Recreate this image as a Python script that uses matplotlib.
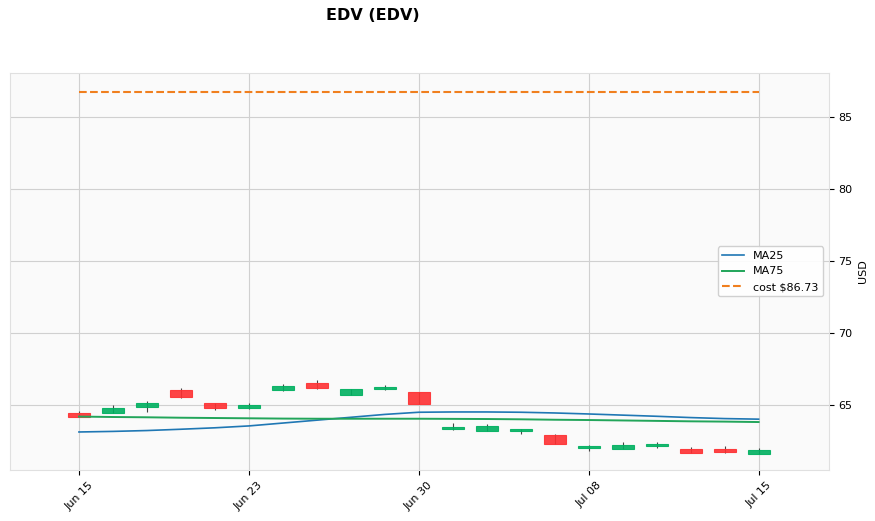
import numpy as np
import matplotlib
matplotlib.use("Agg")
import matplotlib.pyplot as plt

dates = ["Jun 15", "Jun 16", "Jun 17", "Jun 18", "Jun 20", "Jun 23", "Jun 24",
         "Jun 25", "Jun 26", "Jun 27", "Jun 30", "Jul 01", "Jul 02", "Jul 03",
         "Jul 07", "Jul 08", "Jul 09", "Jul 10", "Jul 11", "Jul 14", "Jul 15"]
opens = [64.47, 64.47, 64.86, 66.06, 65.14, 64.79, 66.04, 66.55, 65.72, 66.11, 65.92,
         63.33, 63.22, 63.22, 62.92, 62.01, 61.94, 62.15, 61.97, 61.92, 61.62]
highs = [64.61, 64.98, 65.30, 66.18, 65.14, 65.14, 66.46, 66.74, 66.13, 66.37, 65.92,
         63.73, 63.66, 63.36, 62.99, 62.20, 62.41, 62.45, 62.08, 62.15, 62.03]
lows = [64.15, 64.45, 64.49, 65.47, 64.67, 64.74, 65.97, 66.09, 65.72, 66.04, 65.09,
        63.29, 63.22, 62.97, 62.31, 61.81, 61.94, 61.99, 61.69, 61.65, 61.62]
closes = [64.15, 64.81, 65.16, 65.58, 64.79, 65.02, 66.32, 66.18, 66.11, 66.25, 65.09,
          63.49, 63.54, 63.36, 62.31, 62.15, 62.24, 62.29, 61.69, 61.76, 61.85]
ma25 = [63.13, 63.17, 63.23, 63.32, 63.42, 63.55, 63.75, 63.95, 64.15, 64.35, 64.50,
        64.52, 64.52, 64.50, 64.45, 64.38, 64.30, 64.22, 64.13, 64.06, 64.02]
ma75 = [64.20, 64.17, 64.15, 64.12, 64.10, 64.08, 64.06, 64.05, 64.05, 64.05, 64.05,
        64.04, 64.03, 64.01, 63.98, 63.96, 63.93, 63.90, 63.87, 63.85, 63.82]
cost = 86.73
tick_idx = [0, 5, 10, 15, 20]

up_col = "#00b060"
down_col = "#fe3032"

fig = plt.figure(figsize=(8.75, 5.21), dpi=100)
ax = fig.add_axes([0.0114, 0.0979, 0.9356, 0.762])
ax.set_facecolor("#fafafa")
ax.grid(True, color="#d0d0d0", linewidth=0.8)
ax.set_axisbelow(True)

x = np.arange(len(dates))
for i in x:
    o, h, l, c = opens[i], highs[i], lows[i], closes[i]
    col = up_col if c >= o else down_col
    ax.vlines(i, l, h, color="#444444", linewidth=0.8, zorder=2)
    bottom = min(o, c)
    height = max(abs(c - o), 0.02)
    ax.bar(i, height, bottom=bottom, width=0.65, color=col, edgecolor=col,
           linewidth=0.8, alpha=0.9, zorder=3)

ax.plot(x, ma25, color="#1f77b4", linewidth=1.2, label="MA25", zorder=4)
ax.plot(x, ma75, color="#22a55a", linewidth=1.4, label="MA75", zorder=4)
ax.plot([x[0], x[-1]], [cost, cost], color="#f07f1e", linestyle="--",
        linewidth=1.5, label="cost $%.2f" % cost, zorder=4)

ax.set_xlim(-2.03, 22.06)
ax.set_ylim(60.49, 88.06)
ax.set_yticks([65, 70, 75, 80, 85])
ax.yaxis.tick_right()
ax.yaxis.set_label_position("right")
ax.set_ylabel("USD", fontsize=8)
ax.set_xticks(tick_idx)
ax.set_xticklabels([dates[i] for i in tick_idx], rotation=45, fontsize=8)
ax.tick_params(axis="y", labelsize=8)
for s in ax.spines.values():
    s.set_color("#e0e0e0")

ax.legend(loc="center right", fontsize=8, framealpha=0.9)

fig.text(0.426, 0.97, "EDV (EDV)", fontsize=11.5, fontweight="bold",
         ha="center", va="center")

fig.savefig("out.png", dpi=100)
